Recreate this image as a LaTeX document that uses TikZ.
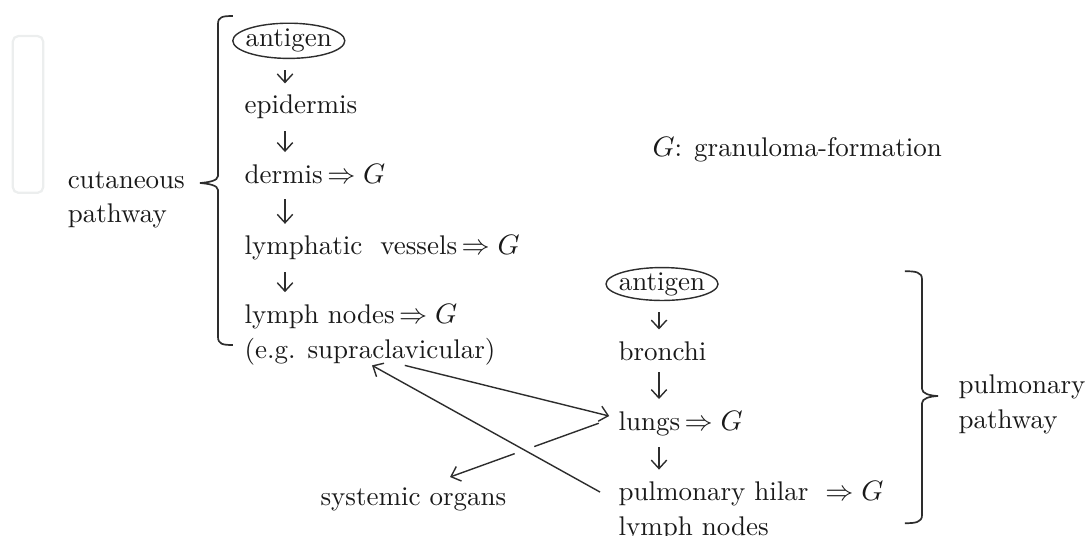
\documentclass[tikz,border=0pt]{standalone}
\usepackage{amsmath,amssymb}
\usetikzlibrary{arrows.meta,positioning,calc,intersections,shapes.geometric}
\definecolor{ink}{RGB}{45,45,45}
\definecolor{ghost}{RGB}{236,238,238}

\begin{document}
\begin{tikzpicture}[x=1cm,y=1cm,>={Straight Barb[length=3pt,width=5.5pt]},
  every node/.style={font=\fontsize{9.6}{12.4}\selectfont,inner sep=0pt,text=black!90},
  item/.style={anchor=west,align=left},
  antigen/.style={ellipse,draw=ink,line width=0.5pt,inner xsep=-1.6pt,inner ysep=0pt,
    minimum width=1.4cm,minimum height=0.44cm},
  flow/.style={->,draw=ink,line width=0.5pt,shorten <=4pt,shorten >=4pt},
  link/.style={->,draw=ink,line width=0.5pt},
  curly/.style={draw=ink,line width=0.6pt}]
\useasboundingbox (0,0) rectangle (13.6375,-6.6875);
\draw[ghost,rounded corners=2pt,line width=0.8pt] (0.16,-0.45) rectangle (0.54,-2.41);

% cutaneous pathway
\node[antigen] (ag1) at (3.61,-0.51) {antigen};
\node[item] (epi) at (3.05,-1.34) {epidermis};
\node[item] (der) at (3.05,-2.17) {dermis\,$\Rightarrow G$};
\node[item] (lv) at (3.05,-3.1) {lymphatic\ \ vessels\,$\Rightarrow G$};
\node[item] (ln) at (3.05,-4.18) {lymph nodes\,$\Rightarrow G$\\(e.g. supraclavicular)};
\node[item] (cut) at (0.84,-2.5) {cutaneous\\pathway};
\coordinate (cl) at (3.5625,0);
\draw[flow] (ag1.south -| cl) -- (epi.north -| cl);
\draw[flow] (epi.south -| cl) -- (der.north -| cl);
\draw[flow,shorten <=5.5pt] (der.south -| cl) -- (lv.north -| cl);
\draw[flow] (lv.south -| cl) -- (ln.north -| cl);
\draw[curly] (2.91,-0.2) .. controls (2.78,-0.2) and (2.725,-0.21) .. (2.725,-0.3)
  -- (2.725,-2.2) .. controls (2.725,-2.26) and (2.6,-2.28) .. (2.5,-2.2875)
  .. controls (2.6,-2.295) and (2.725,-2.315) .. (2.725,-2.375)
  -- (2.725,-4.21) .. controls (2.725,-4.3) and (2.78,-4.3125) .. (2.91,-4.3125);

\node[item] (gf) at (8.15,-1.87) {$G$: granuloma-formation};

% pulmonary pathway
\node[antigen,minimum height=0.38cm] (ag2) at (8.275,-3.55) {antigen};
\node[item] (bro) at (7.725,-4.385) {bronchi};
\node[item] (lu) at (7.725,-5.29) {lungs\,$\Rightarrow G$};
\node[item] (hil) at (7.725,-6.39) {pulmonary hilar\hspace{6pt}$\Rightarrow G$\\lymph nodes};
\node[item] (pul) at (11.975,-5.05) {pulmonary\\pathway};
\coordinate (cr) at (8.2375,0);
\draw[flow] (ag2.south -| cr) -- (bro.north -| cr);
\draw[flow] (bro.south -| cr) -- (lu.north -| cr);
\draw[flow] (lu.south -| cr) -- (hil.north -| cr);
\draw[curly] (11.31,-3.39) .. controls (11.44,-3.39) and (11.525,-3.4) .. (11.525,-3.49)
  -- (11.525,-4.86) .. controls (11.525,-4.92) and (11.62,-4.945) .. (11.725,-4.95)
  .. controls (11.62,-4.955) and (11.525,-4.98) .. (11.525,-5.04)
  -- (11.525,-6.44) .. controls (11.525,-6.53) and (11.44,-6.54) .. (11.31,-6.54);

\node[item] (sys) at (4.0,-6.24) {systemic organs};

% spread between the two pathways
\coordinate (a1) at ($(ln.south west)+(2.01,0)$);
\coordinate (b1) at ($(lu.west)+(-0.11,0.09)$);
\draw[link] (a1) -- (b1);
\coordinate (a2) at ($(hil.north west)+(-0.225,-0.14)$);
\coordinate (b2) at ($(ln.south west)+(1.6,0)$);
\draw[link,name path=back] (a2) -- (b2);
\coordinate (a3) at ($(lu.west)+(-0.24,0)$);
\coordinate (b3) at ($(sys.north west)+(1.625,0.125)$);
\path[name path=out] (a3) -- (b3);
\path[name intersections={of=back and out,by=cross}];
\draw[draw=ink,line width=0.5pt] (a3) -- ($(cross)!0.13cm!(a3)$);
\draw[link] ($(cross)!0.13cm!(b3)$) -- (b3);
\end{tikzpicture}
\end{document}
